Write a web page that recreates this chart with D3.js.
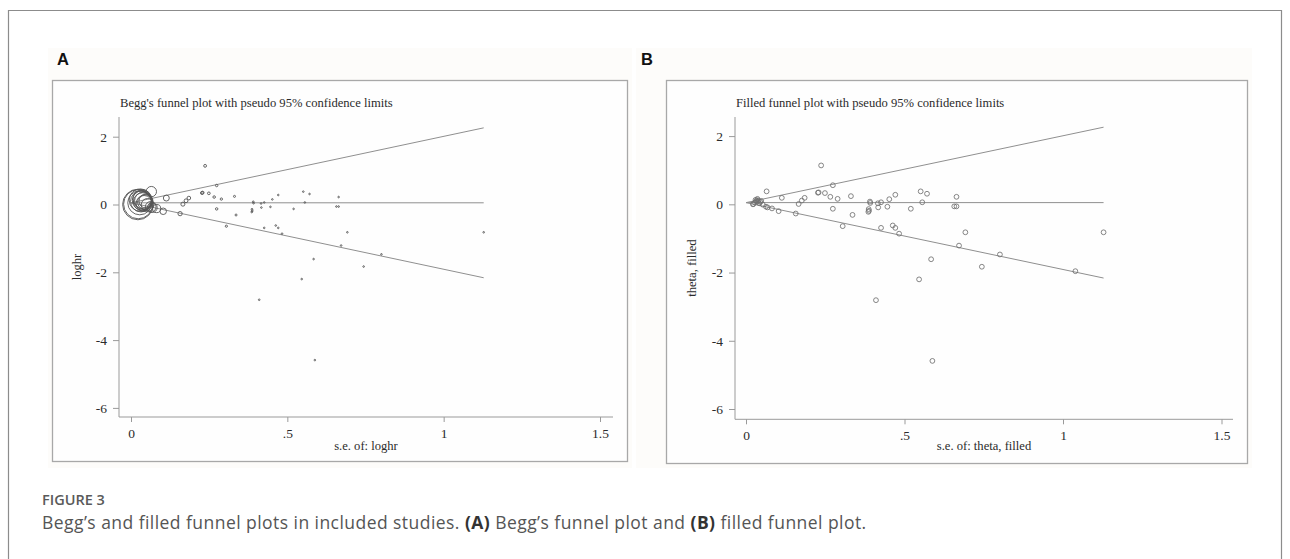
<!DOCTYPE html>
<html>
<head>
<meta charset="utf-8">
<script src="https://cdn.jsdelivr.net/npm/d3@7"></script>
<style>
  body { margin: 0; background: #fff; }
  svg { display: block; }
  .stata { font-family: "Liberation Serif", "Times New Roman", serif; fill: #2b2b2b; }
  .caption { font-family: "Open Sans", "Noto Sans", sans-serif; }
</style>
</head>
<body>
<svg id="vis" width="1290" height="559"></svg>
<script>
// original studies: standard error and log hazard ratio
const studySe = [0.022, 0.023, 0.028, 0.030, 0.032, 0.035, 0.036, 0.037, 0.039, 0.042, 0.045, 0.048,
  0.053, 0.063, 0.065, 0.068, 0.082,
  0.103, 0.113, 0.157, 0.166, 0.176, 0.185, 0.227, 0.229, 0.237, 0.249, 0.266, 0.274, 0.274, 0.289,
  0.305, 0.331, 0.336, 0.386, 0.387, 0.388, 0.391, 0.392, 0.41, 0.416, 0.417, 0.426, 0.426, 0.446,
  0.452, 0.463, 0.471, 0.471, 0.483, 0.52, 0.546, 0.551, 0.556, 0.571, 0.584, 0.588, 0.657, 0.664,
  0.664, 0.672, 0.692, 0.744, 0.801, 1.128];
const studyLogHr = [0.0, 0.01, 0.05, 0.13, 0.09, 0.12, 0.16, 0.08, 0.11, 0.03, 0.07, 0.10,
  -0.01, -0.07, 0.38, -0.09, -0.12,
  -0.20, 0.19, -0.27, 0.01, 0.11, 0.19, 0.34, 0.35, 1.14, 0.33, 0.22, 0.56, -0.13, 0.16,
  -0.64, 0.24, -0.31, -0.22, -0.14, -0.19, 0.08, 0.04, -2.81, 0.03, -0.09, 0.06, -0.69, -0.07,
  0.15, -0.62, 0.28, -0.69, -0.86, -0.13, -2.20, 0.38, 0.06, 0.31, -1.61, -4.59, -0.06, -0.06,
  0.22, -1.21, -0.82, -1.83, -1.47, -0.82];

// studies imputed by trim and fill
const filledSe = [1.039];
const filledTheta = [-1.96];

// pooled estimate and axis ticks
const pooledA = 0.05;
const pooledB = 0.05;
const xTicks = [0, 0.5, 1, 1.5];
const xTickLabels = ["0", ".5", "1", "1.5"];
const yTicks = [2, 0, -2, -4, -6];

const svg = d3.select("svg#vis");

// outer frame of the figure
svg.append("path")
  .attr("d", "M8.5,560 V10.5 H1281.5 V560")
  .attr("fill", "none")
  .attr("stroke", "#8c8c8c")
  .attr("stroke-width", 1.2);

const panels = [
  {
    letter: "A", letterX: 57,
    bg: [48, 48, 584, 420],
    box: [52, 80, 575, 381],
    plot: [119, 117, 613, 417],
    xRange: [131, 600], yRange: [136.7, 407.9],
    title: "Begg's funnel plot with pseudo 95% confidence limits",
    xTitle: "s.e. of: loghr", yTitle: "loghr", yTitleX: 81,
    pooled: pooledA,
    weighted: true,
    se: studySe, theta: studyLogHr
  },
  {
    letter: "B", letterX: 641,
    bg: [636, 48, 616, 420],
    box: [666, 80, 581, 383],
    plot: [735, 117, 1233, 419.3],
    xRange: [746, 1221.5], yRange: [136.1, 409],
    title: "Filled funnel plot with pseudo 95% confidence limits",
    xTitle: "s.e. of: theta, filled", yTitle: "theta, filled", yTitleX: 696,
    pooled: pooledB,
    weighted: false,
    se: studySe.concat(filledSe), theta: studyLogHr.concat(filledTheta)
  }
];

panels.forEach(drawPanel);

function drawPanel(p) {
  const g = svg.append("g");

  g.append("rect")
    .attr("x", p.bg[0]).attr("y", p.bg[1])
    .attr("width", p.bg[2]).attr("height", p.bg[3])
    .attr("fill", "#fdfcfa");

  g.append("text")
    .attr("x", p.letterX).attr("y", 65)
    .attr("font-family", "'Liberation Sans', Arial, sans-serif")
    .attr("font-weight", "bold")
    .attr("font-size", 16.5)
    .attr("fill", "#111")
    .text(p.letter);

  g.append("rect")
    .attr("x", p.box[0] + 0.5).attr("y", p.box[1] + 0.5)
    .attr("width", p.box[2]).attr("height", p.box[3])
    .attr("fill", "#fefefe")
    .attr("stroke", "#a8a8a8")
    .attr("stroke-width", 1.3);

  const x = d3.scaleLinear().domain([0, 1.5]).range(p.xRange);
  const y = d3.scaleLinear().domain([2, -6]).range(p.yRange);
  const [left, top, right, bottom] = p.plot;

  // axis lines span the whole plot region
  g.append("line")
    .attr("x1", left).attr("x2", left).attr("y1", top).attr("y2", bottom)
    .attr("stroke", "#9a9a9a");
  g.append("line")
    .attr("x1", left).attr("x2", right).attr("y1", bottom).attr("y2", bottom)
    .attr("stroke", "#9a9a9a");

  const yAxis = g.append("g")
    .attr("transform", "translate(" + left + ",0)")
    .call(d3.axisLeft(y).tickValues(yTicks).tickFormat(d => String(d)).tickSize(6).tickPadding(6));
  const xAxis = g.append("g")
    .attr("transform", "translate(0," + bottom + ")")
    .call(d3.axisBottom(x).tickValues(xTicks).tickFormat((d, i) => xTickLabels[i]).tickSize(5).tickPadding(6));

  [yAxis, xAxis].forEach(function(a) {
    a.select(".domain").remove();
    a.selectAll("line").attr("stroke", "#9a9a9a");
    a.selectAll("text")
      .attr("class", "stata")
      .attr("font-size", 13.5)
      .attr("fill", "#2b2b2b");
  });

  g.append("text")
    .attr("class", "stata")
    .attr("x", left + 1).attr("y", 106.5)
    .attr("font-size", 12.6)
    .text(p.title);

  g.append("text")
    .attr("class", "stata")
    .attr("x", (left + right) / 2).attr("y", 450)
    .attr("text-anchor", "middle")
    .attr("font-size", 12.6)
    .text(p.xTitle);

  g.append("text")
    .attr("class", "stata")
    .attr("transform", "translate(" + p.yTitleX + "," + ((top + bottom) / 2) + ") rotate(-90)")
    .attr("text-anchor", "middle")
    .attr("font-size", 12.6)
    .text(p.yTitle);

  // funnel: pooled line and pseudo 95% limits
  const seMax = d3.max(p.se);
  const line = d3.line().x(d => x(d[0])).y(d => y(d[1]));
  const funnel = [
    [[0, p.pooled], [seMax, p.pooled]],
    [[0, p.pooled], [seMax, p.pooled + 1.96 * seMax]],
    [[0, p.pooled], [seMax, p.pooled - 1.96 * seMax]]
  ];
  g.selectAll("path.funnel")
    .data(funnel)
    .enter()
    .append("path")
    .attr("class", "funnel")
    .attr("d", line)
    .attr("fill", "none")
    .attr("stroke", "#8f8f8f")
    .attr("stroke-width", 1);

  const pts = p.se.map((s, i) => ({ se: s, theta: p.theta[i] }));

  // Begg's plot sizes markers by weight, filled plot uses plain circles
  g.selectAll("circle")
    .data(pts)
    .enter()
    .append("circle")
    .attr("cx", d => x(d.se))
    .attr("cy", d => y(d.theta))
    .attr("r", d => p.weighted ? Math.max(0.8, 0.336 / d.se) : 2.4)
    .attr("fill", "none")
    .attr("stroke", p.weighted ? "#555" : "#707070")
    .attr("stroke-width", p.weighted ? 0.9 : 0.85);
}

// caption
svg.append("text")
  .attr("class", "caption")
  .attr("x", 42).attr("y", 504.5)
  .attr("font-size", 14.5)
  .attr("font-weight", 600)
  .attr("fill", "#5a5a5a")
  .text("FIGURE 3");

const cap = svg.append("text")
  .attr("class", "caption")
  .attr("x", 42).attr("y", 528.5)
  .attr("font-size", 17.5)
  .attr("letter-spacing", 0.45)
  .attr("fill", "#555");
cap.append("tspan").text("Begg\u2019s and filled funnel plots in included studies. ");
cap.append("tspan").attr("font-weight", "bold").attr("fill", "#333").text("(A)");
cap.append("tspan").text(" Begg\u2019s funnel plot and ");
cap.append("tspan").attr("font-weight", "bold").attr("fill", "#333").text("(B)");
cap.append("tspan").text(" filled funnel plot.");
</script>
</body>
</html>
